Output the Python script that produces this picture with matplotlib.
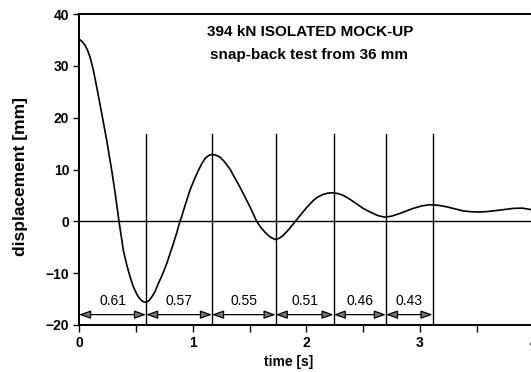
import numpy as np
import matplotlib
matplotlib.use("Agg")
import matplotlib.pyplot as plt

# displacement curve
time_s = [0.0, 0.01, 0.03, 0.053, 0.075, 0.097, 0.126, 0.156, 0.2, 0.244,
          0.288, 0.323, 0.352, 0.39, 0.42, 0.449, 0.478, 0.507, 0.53, 0.551,
          0.57, 0.59, 0.615, 0.64, 0.67, 0.698, 0.735, 0.771, 0.80, 0.83,
          0.86, 0.888, 0.903, 0.925, 0.947, 0.976, 1.013, 1.05, 1.08, 1.108,
          1.14, 1.167, 1.20, 1.24, 1.28, 1.328, 1.37, 1.416, 1.46, 1.504,
          1.563, 1.60, 1.636, 1.68, 1.724, 1.76, 1.797, 1.84, 1.885, 1.944,
          2.0, 2.06, 2.10, 2.149, 2.19, 2.237, 2.28, 2.325, 2.38, 2.44,
          2.50, 2.56, 2.63, 2.69, 2.75, 2.82, 2.88, 2.94, 3.02, 3.087,
          3.16, 3.234, 3.31, 3.38, 3.45, 3.527, 3.60, 3.674, 3.75, 3.82,
          3.90, 3.967, 4.0]
disp_mm = [35.2, 35.0, 34.6, 34.0, 33.0, 31.7, 29.2, 25.9, 20.8, 15.6,
           9.8, 4.7, 0.0, -5.6, -8.4, -10.7, -12.6, -14.0, -14.8, -15.3,
           -15.55, -15.6, -15.3, -14.6, -13.5, -12.0, -10.2, -8.2, -6.3, -4.3,
           -2.2, 0.0, 0.9, 2.5, 4.0, 6.0, 8.0, 9.8, 11.1, 12.1,
           12.7, 12.9, 12.8, 12.4, 11.5, 10.1, 8.4, 6.6, 4.7, 2.8,
           0.0, -1.2, -2.1, -3.0, -3.5, -3.3, -2.7, -1.7, -0.5, 1.1,
           2.6, 4.0, 4.7, 5.2, 5.45, 5.5, 5.35, 5.0, 4.3, 3.4,
           2.5, 1.8, 1.1, 0.8, 1.0, 1.5, 2.0, 2.5, 3.0, 3.2,
           3.1, 2.8, 2.4, 2.0, 1.85, 1.8, 1.9, 2.1, 2.3, 2.5,
           2.55, 2.3, 2.2]

# half-period boundaries (vertical lines) and measured half periods
bounds_s = [0.0, 0.59, 1.17, 1.73, 2.24, 2.70, 3.11]
half_periods = ["0.61", "0.57", "0.55", "0.51", "0.46", "0.43"]

title_lines = ["394 kN ISOLATED MOCK-UP", "snap-back test from 36 mm"]

plt.rcParams['font.family'] = ['Liberation Sans', 'DejaVu Sans']

fig = plt.figure(figsize=(5.31, 3.72), dpi=100)
ax = fig.add_axes((79/531, 1 - 325/372, (533.7 - 79)/531, (325 - 14)/372))

ax.set_xlim(0, 4)
ax.set_ylim(-20, 40)

ax.axhline(0, color='black', lw=1.0)
ax.plot(time_s, disp_mm, color='black', lw=1.2, solid_joinstyle='round')

for b in bounds_s[1:]:
    ax.plot([b, b], [-20, 16.8], color='black', lw=1.0)

for i, lab in enumerate(half_periods):
    t0, t1 = bounds_s[i], bounds_s[i + 1]
    ax.annotate('', xy=(t1, -18.0), xytext=(t0, -18.0),
                arrowprops=dict(arrowstyle='<|-|>,head_length=0.7,head_width=0.25',
                                fc='#777777', ec='black', lw=0.9,
                                shrinkA=0, shrinkB=0))
    ax.text((t0 + t1)/2, -15.4, lab, ha='center', va='center', fontsize=10)

ax.text(2.03, 36.5, title_lines[0], ha='center', va='center',
        fontsize=11, fontweight='bold')
ax.text(2.02, 32.0, title_lines[1], ha='center', va='center',
        fontsize=11, fontweight='bold')

ax.set_xticks([0, 1, 2, 3, 4])
ax.set_xticks(np.arange(0.5, 4, 1.0), minor=True)
ax.set_yticks([-20, -10, 0, 10, 20, 30, 40])
ax.tick_params(axis='both', which='both', direction='out', width=1.0)
ax.tick_params(axis='x', which='both', length=5, pad=3)
ax.tick_params(axis='y', length=4, pad=3)
for lab in ax.get_xticklabels() + ax.get_yticklabels():
    lab.set_fontweight('bold')
    lab.set_fontsize(10)

for s in ax.spines.values():
    s.set_linewidth(1.4)

ax.set_xlabel('time [s]', fontsize=10, fontweight='bold')
ax.xaxis.set_label_coords((289 - 79)/(533.7 - 79), -(362 - 325)/311, transform=ax.transAxes)
ax.xaxis.label.set_va('center')
ax.set_ylabel('displacement [mm]', fontsize=12.5, fontweight='bold')
ax.yaxis.set_label_coords(-(79 - 20)/(533.7 - 79), (325 - 176)/311, transform=ax.transAxes)
ax.yaxis.label.set_va('center')

fig.savefig('out.png', dpi=100)
